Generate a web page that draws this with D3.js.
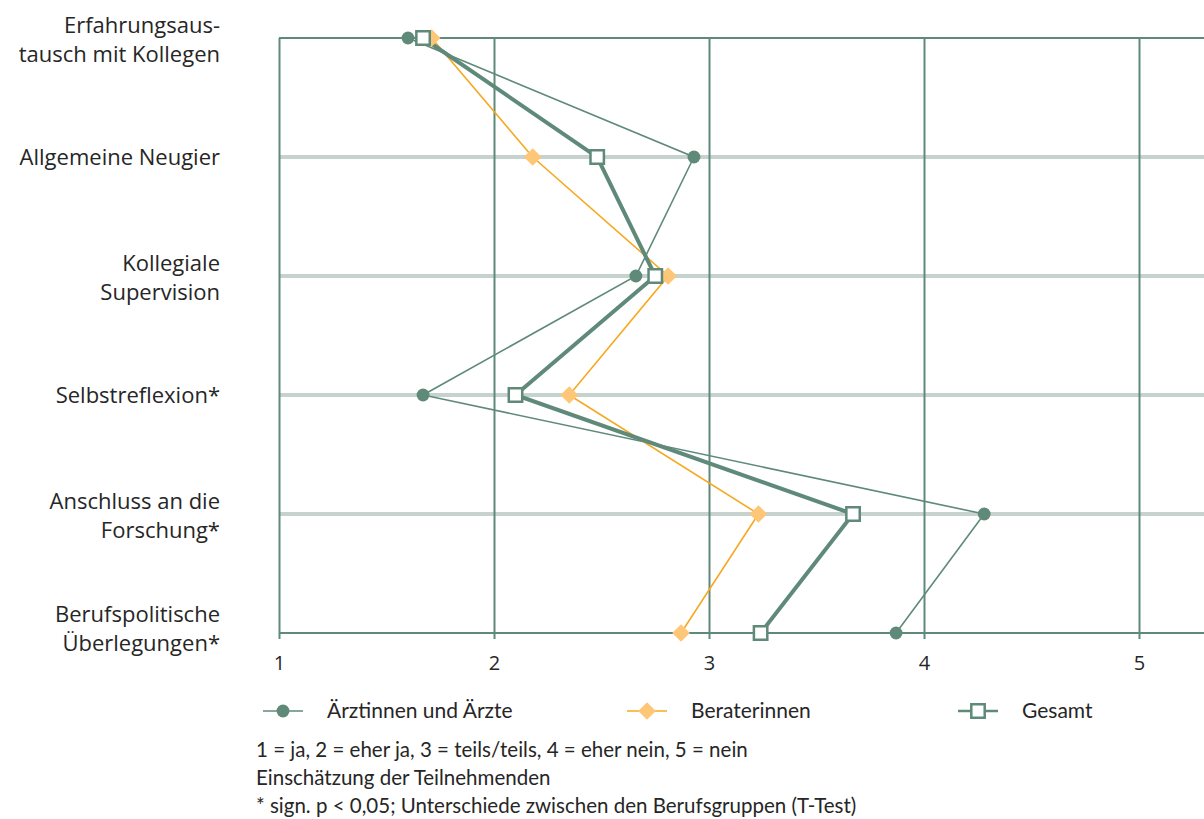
<!DOCTYPE html>
<html><head><meta charset="utf-8">
<script src="https://cdn.jsdelivr.net/npm/d3@7"></script>
<style>body{margin:0;background:#fff}svg{display:block}</style>
</head><body>
<svg id="c" width="1204" height="819"></svg>
<script>
const categories = [
  ["Erfahrungsaus-", "tausch mit Kollegen"],
  ["Allgemeine Neugier"],
  ["Kollegiale", "Supervision"],
  ["Selbstreflexion*"],
  ["Anschluss an die", "Forschung*"],
  ["Berufspolitische", "Überlegungen*"]
];
const aerzte   = [1.60, 2.93, 2.66, 1.67, 4.28, 3.87];
const berater  = [1.71, 2.18, 2.81, 2.35, 3.23, 2.87];
const gesamt   = [1.67, 2.48, 2.75, 2.10, 3.67, 3.24];
const xTicks = [1, 2, 3, 4, 5];
const seriesNames = ["Ärztinnen und Ärzte", "Beraterinnen", "Gesamt"];
const notes = [
  "1 = ja, 2 = eher ja, 3 = teils/teils, 4 = eher nein, 5 = nein",
  "Einschätzung der Teilnehmenden",
  "* sign. p < 0,05; Unterschiede zwischen den Berufsgruppen (T-Test)"
];

const green = "#5f8a7a", lightGrid = "#c6d2cd", orange = "#f6a821", orangeFill = "#fec777", textCol = "#262626";
const svg = d3.select("#c");
const x = d3.scaleLinear().domain([1, 5]).range([279, 1139]);
const y = d3.scalePoint().domain(d3.range(categories.length)).range([38, 633]);
const right = 1204;
const last = categories.length - 1;

// horizontal grid
svg.append("g").selectAll("line").data(d3.range(categories.length)).join("line")
  .attr("x1", x(1)).attr("x2", right)
  .attr("y1", d => y(d)).attr("y2", d => y(d))
  .attr("stroke", d => (d === 0 || d === last) ? green : lightGrid)
  .attr("stroke-width", d => (d === 0 || d === last) ? 2 : 4);

// vertical grid + x axis
const xAxis = d3.axisBottom(x).tickValues(xTicks).tickSize(6).tickFormat(d3.format("d")).tickPadding(12);
const gx = svg.append("g").attr("transform", `translate(0,${y(last)})`).call(xAxis);
gx.select(".domain").remove();
gx.selectAll(".tick line").attr("y1", -(y(last) - y(0))).attr("y2", 6).attr("stroke", green).attr("stroke-width", 2);
gx.selectAll(".tick text").attr("font-family", "Open Sans").attr("font-size", 20).attr("fill", textCol).attr("y", 30).attr("dy", "0.35em");

// y labels
const gy = svg.append("g");
categories.forEach((lines, i) => {
  const t = gy.append("text").attr("text-anchor", "end").attr("font-family", "Open Sans")
    .attr("font-size", 22).attr("fill", textCol);
  const off = lines.length === 1 ? [0] : (i === last ? [-19, 10] : [-13, 16]);
  lines.forEach((l, j) => {
    t.append("tspan").attr("x", 220).attr("y", y(i) + off[j]).attr("dy", "0.35em").text(l);
  });
});

const line = d3.line().x(d => x(d[0])).y(d => y(d[1]));
const pts = arr => arr.map((v, i) => [v, i]);

svg.append("path").attr("d", line(pts(aerzte))).attr("fill", "none").attr("stroke", green).attr("stroke-width", 1.6);
svg.append("path").attr("d", line(pts(berater))).attr("fill", "none").attr("stroke", orange).attr("stroke-width", 1.6);
svg.append("path").attr("d", line(pts(gesamt))).attr("fill", "none").attr("stroke", green).attr("stroke-width", 4);

const circ = d3.symbol().type(d3.symbolCircle).size(130);
const diam = d3.symbol().type(d3.symbolDiamond2).size(200);
const sq = d3.symbol().type(d3.symbolSquare).size(180);

svg.append("g").selectAll("path").data(pts(aerzte)).join("path")
  .attr("transform", d => `translate(${x(d[0])},${y(d[1])})`).attr("d", circ).attr("fill", green);
svg.append("g").selectAll("path").data(pts(berater)).join("path")
  .attr("transform", d => `translate(${x(d[0])},${y(d[1])})`).attr("d", diam).attr("fill", orangeFill);
svg.append("g").selectAll("path").data(pts(gesamt)).join("path")
  .attr("transform", d => `translate(${x(d[0])},${y(d[1])})`).attr("d", sq).attr("fill", "#fff").attr("stroke", green).attr("stroke-width", 2.5);

// legend
const legendX = [263, 627, 958];
const legendSym = [[circ, green, "none", 0, green], [diam, orangeFill, "none", 0, orange], [sq, "#fff", green, 2.5, green]];
const leg = svg.append("g");
seriesNames.forEach((n, i) => {
  const lx = legendX[i], ly = 711;
  leg.append("line").attr("x1", lx).attr("x2", lx + 40).attr("y1", ly).attr("y2", ly).attr("stroke", legendSym[i][4]).attr("stroke-width", i === 2 ? 2.5 : 1.6);
  leg.append("path").attr("transform", `translate(${lx + 20},${ly})`).attr("d", legendSym[i][0])
    .attr("fill", legendSym[i][1]).attr("stroke", legendSym[i][2]).attr("stroke-width", legendSym[i][3]);
  leg.append("text").attr("x", lx + 64).attr("y", ly).attr("dy", "0.35em").attr("font-family", "Lato")
    .attr("font-size", 21).attr("fill", textCol).text(n);
});

// notes
svg.append("g").selectAll("text").data(notes).join("text")
  .attr("x", 256).attr("y", (d, i) => 750 + i * 28).attr("dy", "0.35em")
  .attr("font-family", "Lato").attr("font-size", 20.5).attr("fill", textCol).text(d => d);
</script>
</body></html>
